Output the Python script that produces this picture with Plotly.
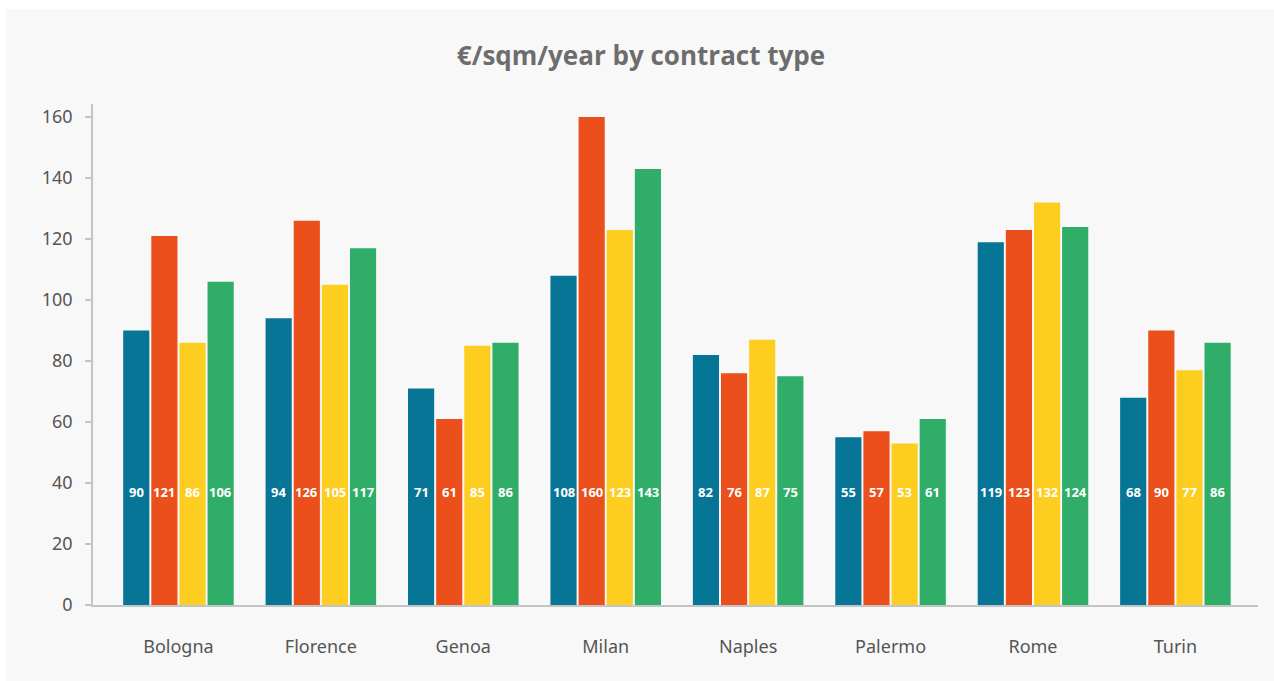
import plotly.graph_objects as go

# Rent levels (€/sqm/year) per city and contract type
cities = ["Bologna", "Florence", "Genoa", "Milan", "Naples", "Palermo", "Rome", "Turin"]
contract_a = [90, 94, 71, 108, 82, 55, 119, 68]
contract_b = [121, 126, 61, 160, 76, 57, 123, 90]
contract_c = [86, 105, 85, 123, 87, 53, 132, 77]
contract_d = [106, 117, 86, 143, 75, 61, 124, 86]
y_ticks = [0, 20, 40, 60, 80, 100, 120, 140, 160]

series = [contract_a, contract_b, contract_c, contract_d]
colors = ["#077595", "#EA4F1C", "#FDCE1F", "#2FAD69"]

BAR_GAP = 0.21
LABEL_Y = 37

fig = go.Figure()
for vals, col in zip(series, colors):
    fig.add_trace(go.Bar(
        x=cities, y=vals,
        marker=dict(color=col, line=dict(width=0)),
        hoverinfo="x+y",
    ))

# value labels sit at a common height inside each bar
slot = (1 - BAR_GAP) / len(series)
annotations = []
for k, vals in enumerate(series):
    off = (k - (len(series) - 1) / 2) * slot
    for i, v in enumerate(vals):
        annotations.append(dict(
            x=i + off, y=LABEL_Y, xref="x", yref="y",
            text=f"<b>{v}</b>", showarrow=False,
            font=dict(family="Open Sans", size=13, color="white"),
        ))

W, H = 1274, 681
ml, mr, mt, mb = 93, 16, 104, 76
pw, ph = W - ml - mr, H - mt - mb

def px_x(p):
    return (p - ml) / pw

def px_y(p):
    return (H - mb - p) / ph

fig.update_layout(
    width=W, height=H,
    margin=dict(l=ml, r=mr, t=mt, b=mb),
    paper_bgcolor="white",
    plot_bgcolor="rgba(0,0,0,0)",
    barmode="group",
    bargap=BAR_GAP,
    bargroupgap=0.07,
    showlegend=False,
    title=dict(
        text="<b>€/sqm/year by contract type</b>",
        x=641 / W, xref="container", xanchor="center",
        y=1 - 56 / H, yanchor="middle",
        font=dict(family="Open Sans", size=26, color="#6d6d6d"),
    ),
    shapes=[dict(
        type="rect", xref="paper", yref="paper", layer="below",
        x0=px_x(6), x1=px_x(W + 2), y0=px_y(H + 2), y1=px_y(9),
        fillcolor="#f8f8f8", line=dict(width=0),
    )],
    annotations=annotations,
    xaxis=dict(
        range=[-0.6, 7.58],
        showline=True, linecolor="#c4c4c4", linewidth=1.5,
        showgrid=False, ticks="", ticklabelstandoff=25,
        tickfont=dict(family="Noto Sans", size=18, color="#555555"),
    ),
    yaxis=dict(
        range=[0, 164.3],
        tickvals=y_ticks,
        showline=True, linecolor="#c4c4c4", linewidth=1.5,
        showgrid=False, zeroline=False,
        ticks="outside", ticklen=6, tickcolor="#c4c4c4", tickwidth=1.5,
        ticklabelstandoff=9,
        tickfont=dict(family="Noto Sans", size=18, color="#555555"),
    ),
)

fig.write_html("out.html")
